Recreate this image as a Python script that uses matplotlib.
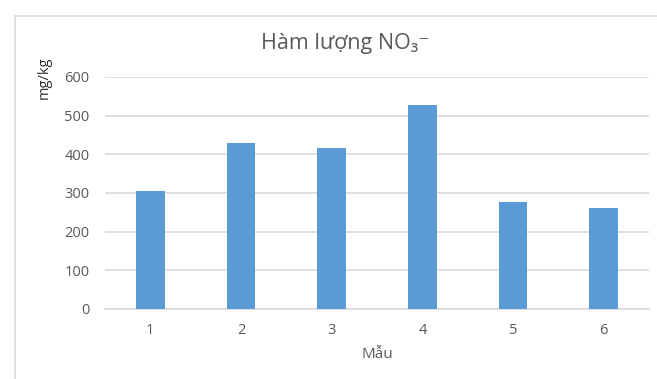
import matplotlib
matplotlib.use('Agg')
import matplotlib.pyplot as plt
from matplotlib.patches import Rectangle

# NO3- content per sample (mg/kg)
samples = ['1', '2', '3', '4', '5', '6']
no3 = [305, 430, 416, 527, 277, 260]
yticks = [0, 100, 200, 300, 400, 500, 600]

plt.rcParams['font.family'] = ['Open Sans', 'DejaVu Sans']

txt = '#595959'
grid = '#d9d9d9'

fig = plt.figure(figsize=(6.57, 3.79), dpi=100)
ax = fig.add_axes([105 / 657, 70 / 379, 544 / 657, 232 / 379])

x = list(range(len(samples)))
ax.bar(x, no3, width=0.315, color='#5B9BD5', zorder=3)

ax.set_xlim(-0.5, len(samples) - 0.5)
ax.set_ylim(0, 600)
ax.set_yticks(yticks)
ax.set_xticks(x)
ax.set_xticklabels(samples)
ax.yaxis.grid(True, color=grid, lw=1.2, zorder=0)
ax.tick_params(length=0, labelsize=10.5, labelcolor=txt)
ax.tick_params(axis='x', pad=10)
ax.tick_params(axis='y', pad=11)
for s in ['top', 'right', 'left']:
    ax.spines[s].set_visible(False)
ax.spines['bottom'].set_color(grid)
ax.spines['bottom'].set_linewidth(1.2)

# chart frame
fig.patches.append(Rectangle((15 / 657, -0.05), 1.1, 1 - 16 / 379 + 0.05,
                             transform=fig.transFigure, fill=False,
                             ec=grid, lw=1.2))

fig.text(345 / 657, 1 - 43 / 379, 'Hàm lượng NO₃⁻', ha='center',
         va='center', fontsize=15.5, color=txt)
fig.text(44 / 657, 1 - 78 / 379, 'mg/kg', rotation=90, ha='center',
         va='center', fontsize=10.5, color='#303030')
fig.text(377 / 657, 1 - 354 / 379, 'Mẫu', ha='center', va='center',
         fontsize=11, color=txt)

fig.savefig('out.png', dpi=100)
